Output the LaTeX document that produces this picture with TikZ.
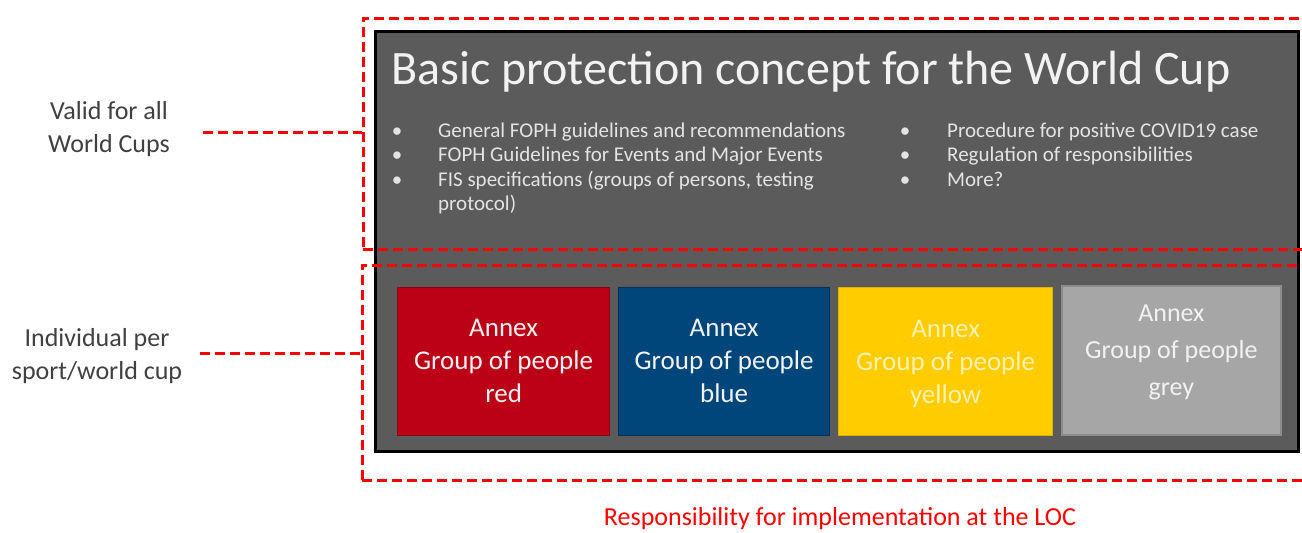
\documentclass[tikz,border=0pt]{standalone}
\usepackage{fontspec}
\setmainfont{Carlito}
\definecolor{panelbg}{HTML}{5B5B5B}
\definecolor{annred}{HTML}{BC0016}
\definecolor{annredb}{HTML}{8E0010}
\definecolor{annblue}{HTML}{00467A}
\definecolor{annblueb}{HTML}{00335C}
\definecolor{annyellow}{HTML}{FFCC00}
\definecolor{annyellowb}{HTML}{E0B000}
\definecolor{anngrey}{HTML}{A6A6A6}
\definecolor{anngreyb}{HTML}{8C8C8C}
\definecolor{lbltext}{HTML}{404040}
\definecolor{paletext}{HTML}{F2F2F2}
\definecolor{bullettext}{HTML}{E4E4E4}
\definecolor{yeltext}{HTML}{FFF1B0}
\definecolor{locred}{HTML}{FF0000}
\tikzset{
  reddash/.style={draw=locred, line width=3pt, dash pattern=on 10pt off 5pt},
  redline/.style={draw=locred, line width=3pt, dash pattern=on 10pt off 5pt},
  annexbox/.style={minimum width=#1, minimum height=148, line width=1.2pt, inner sep=0pt, anchor=north west},
  annextext/.style={font=\fontsize{27}{33}\selectfont, align=center, text=paletext, inner sep=0pt},
  bulletitem/.style={font=\fontsize{21}{24.5}\selectfont, text=bullettext, inner sep=0pt, anchor=base west, align=left},
  bulletdot/.style={font=\fontsize{21}{24.5}\selectfont, text=bullettext, inner sep=0pt, anchor=base},
  sidelabel/.style={font=\fontsize{26}{33.5}\selectfont, text=lbltext, align=center, inner sep=0pt}
}
\begin{document}
\begin{tikzpicture}[x=1pt,y=-1pt]
\useasboundingbox (0,0) rectangle (1302,533);
\clip (0,0) rectangle (1302,533);
% main dark panel
\node[draw=black, line width=3pt, fill=panelbg, minimum width=923, minimum height=420, anchor=north west, inner sep=0pt] (panel) at (373.5,29.5) {};
% title
\node[font=\fontsize{48}{56}\selectfont, text=paletext, inner sep=0pt, anchor=base west] (title) at (391,84) {Basic protection concept for the World Cup};
% left bullets
\node[bulletdot] (b1) at (397,137) {\textbullet};
\node[bulletitem] (t1) at (438,137) {General FOPH guidelines and recommendations};
\node[bulletdot] (b2) at (397,161.5) {\textbullet};
\node[bulletitem] (t2) at (438,161.5) {FOPH Guidelines for Events and Major Events};
\node[bulletdot] (b3) at (397,186) {\textbullet};
\node[bulletitem] (t3a) at (438,186) {FIS specifications (groups of persons, testing};
\node[bulletitem] (t3b) at (438,210.5) {protocol)};
% right bullets
\node[bulletdot] (b4) at (905,137) {\textbullet};
\node[bulletitem] (t4) at (947,137) {Procedure for positive COVID19 case};
\node[bulletdot] (b5) at (905,161.5) {\textbullet};
\node[bulletitem] (t5) at (947,161.5) {Regulation of responsibilities};
\node[bulletdot] (b6) at (905,186) {\textbullet};
\node[bulletitem] (t6) at (947,186) {More?};
% annex boxes
\node[annexbox=212, draw=annredb, fill=annred] (red) at (397,286.5) {};
\node[annextext] (redt) at (red.center) {Annex\\Group of people\\red};
\node[annexbox=211, draw=annblueb, fill=annblue] (blue) at (618,286.5) {};
\node[annextext] (bluet) at (blue.center) {Annex\\Group of people\\blue};
\node[annexbox=214, draw=annyellowb, fill=annyellow] (yellow) at (838,286.5) {};
\node[annextext, text=yeltext] (yellowt) at ([yshift=-3]yellow.center) {Annex\\Group of people\\yellow};
\node[annexbox=219, draw=anngreyb, fill=anngrey, line width=1.8pt, minimum height=149] (grey) at (1061,285) {};
\node[annextext, font=\fontsize{26}{37}\selectfont] (greyt) at ([yshift=8]grey.center) {Annex\\Group of people\\grey};
% red dashed frames
\node[reddash, minimum width=960, minimum height=231, anchor=north west, inner sep=0pt] (upper) at (361.5,16.5) {};
\node[reddash, minimum width=960, minimum height=215, anchor=north west, inner sep=0pt] (lower) at (360.5,263.5) {};
% side labels
\node[sidelabel] (valid) at (109,129) {Valid for all\\World Cups};
\node[sidelabel] (indiv) at (97,356) {Individual per\\sport/world cup};
\coordinate (vstart) at (203,132);
\coordinate (istart) at (200,353);
\draw[redline] (vstart) -- (vstart -| upper.west);
\draw[redline] (istart) -- (istart -| lower.west);
% bottom label
\node[font=\fontsize{26}{30}\selectfont, text=locred, inner sep=0pt, anchor=base] (loc) at (840,525) {Responsibility for implementation at the LOC};
\end{tikzpicture}
\end{document}
